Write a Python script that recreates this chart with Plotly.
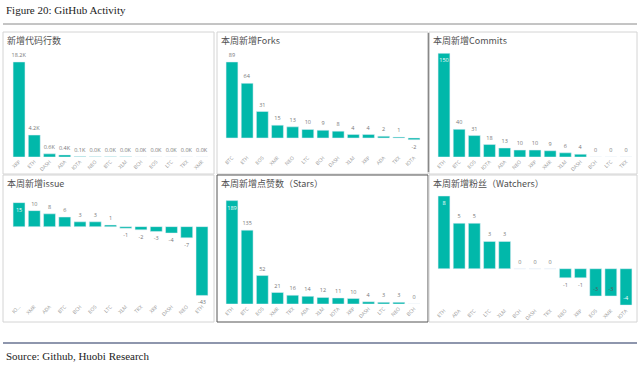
import plotly.graph_objects as go

W, H = 640, 366
TEAL = "#01B8AA"

# ---------------- data ----------------
loc_cats = ["XRP", "ETH", "DASH", "ADA", "IOTA", "NEO", "BTC", "XLM", "BCH", "EOS", "LTC", "TRX", "XMR"]
loc_vals = [18200, 4200, 600, 400, 90, 40, 30, 30, 10, 5, 3, 2, 1]

forks_cats = ["BTC", "ETH", "EOS", "XMR", "NEO", "LTC", "BCH", "DASH", "XLM", "XRP", "ADA", "TRX", "IOTA"]
forks_vals = [89, 64, 31, 15, 13, 10, 9, 8, 4, 4, 2, 1, -2]

commits_cats = ["ETH", "BTC", "EOS", "IOTA", "ADA", "NEO", "XRP", "XMR", "XLM", "DASH", "BCH", "LTC", "TRX"]
commits_vals = [150, 40, 31, 18, 13, 10, 10, 9, 6, 4, 0, 0, 0]

issue_cats = ["IO…", "XMR", "ADA", "BTC", "BCH", "EOS", "LTC", "XLM", "TRX", "XRP", "DASH", "NEO", "ETH"]
issue_vals = [15, 10, 8, 6, 3, 3, 1, -1, -2, -3, -4, -7, -43]

stars_cats = ["ETH", "BTC", "EOS", "XMR", "TRX", "ADA", "XLM", "IOTA", "XRP", "DASH", "LTC", "NEO", "BCH"]
stars_vals = [189, 135, 52, 21, 16, 14, 12, 11, 10, 4, 3, 3, 0]

watch_cats = ["ETH", "ADA", "BTC", "LTC", "XLM", "BCH", "DASH", "TRX", "NEO", "XRP", "EOS", "XMR", "IOTA"]
watch_vals = [8, 5, 5, 3, 3, 0, 0, 0, -1, -1, -3, -3, -4]

titles = ["新增代码行数", "本周新增Forks", "本周新增Commits",
          "本周新增issue", "本周新增点赞数（Stars）", "本周新增粉丝（Watchers）"]


def px_x(p):
    return p / W


def px_y(p):
    return 1 - p / H


panels = [
    dict(cats=loc_cats, vals=loc_vals, text=[f"{v/1000:.1f}K" for v in loc_vals],
         x=(11.4, 209.6), y=(48, 157), rng=[0, 20880], inside={}),
    dict(cats=forks_cats, vals=forks_vals, text=[str(v) for v in forks_vals],
         x=(224.4, 421.6), y=(52, 153), rng=[-17.6, 100.7], inside={}),
    dict(cats=commits_cats, vals=commits_vals, text=[str(v) for v in commits_vals],
         x=(436.4, 633.6), y=(50, 157), rng=[0, 154.8], inside={0: "white"}),
    dict(cats=issue_cats, vals=issue_vals, text=[str(v) for v in issue_vals],
         x=(11.4, 209.6), y=(190, 302), rng=[-47.1, 22.9], inside={0: "white"}),
    dict(cats=stars_cats, vals=stars_vals, text=[str(v) for v in stars_vals],
         x=(224.4, 421.6), y=(197, 304), rng=[0, 195.6], inside={0: "white"}),
    dict(cats=watch_cats, vals=watch_vals, text=[str(v) for v in watch_vals],
         x=(436.4, 633.6), y=(193, 306), rng=[-4.1, 8.33],
         inside={0: "white", 10: "#555", 11: "#555", 12: "white"}),
]

fig = go.Figure()
layout = {}
for i, p in enumerate(panels):
    n = i + 1
    xa = "x" if n == 1 else f"x{n}"
    ya = "y" if n == 1 else f"y{n}"
    tpos = ["inside" if k in p["inside"] else "outside" for k in range(len(p["vals"]))]
    tcol = [p["inside"].get(k, "#777") for k in range(len(p["vals"]))]
    fig.add_trace(go.Bar(
        x=p["cats"], y=p["vals"], text=p["text"], textposition=tpos,
        insidetextanchor="end", constraintext="none", cliponaxis=False,
        textangle=0,
        textfont=dict(size=5.5, color=tcol, family="Open Sans"),
        marker=dict(color=TEAL), xaxis=xa, yaxis=ya, showlegend=False,
        hoverinfo="skip"))
    xkey = "xaxis" if n == 1 else f"xaxis{n}"
    ykey = "yaxis" if n == 1 else f"yaxis{n}"
    layout[xkey] = dict(domain=[px_x(p["x"][0]), px_x(p["x"][1])], anchor=ya,
                        tickangle=-45, tickfont=dict(size=5, color="#9a9a9a", family="Open Sans"),
                        showgrid=False, zeroline=False, showline=False, ticks="",
                        fixedrange=True)
    layout[ykey] = dict(domain=[px_y(p["y"][1]), px_y(p["y"][0])], anchor=xa,
                        range=p["rng"], showgrid=False, zeroline=False,
                        showticklabels=False, showline=False, fixedrange=True)

fig.update_layout(**layout)

# panel frames
cols = [(3, 214), (217, 428), (429, 637)]
rows = [(32, 174), (175, 322)]
shapes = []
for r, (y0, y1) in enumerate(rows):
    for c, (x0, x1) in enumerate(cols):
        dark = (r == 1 and c == 1)
        shapes.append(dict(type="rect", xref="paper", yref="paper",
                           x0=px_x(x0), x1=px_x(x1), y0=px_y(y1), y1=px_y(y0),
                           line=dict(color="#555" if dark else "#d4d4d4", width=1),
                           layer="below"))
# darker left border of commits panel
shapes.append(dict(type="line", xref="paper", yref="paper",
                   x0=px_x(428.5), x1=px_x(428.5), y0=px_y(172), y1=px_y(33),
                   line=dict(color="#888", width=1.5)))
# header rule and source rule
shapes.append(dict(type="line", xref="paper", yref="paper",
                   x0=px_x(3), x1=px_x(637), y0=px_y(24), y1=px_y(24),
                   line=dict(color="#8a8a8a", width=1)))
shapes.append(dict(type="line", xref="paper", yref="paper",
                   x0=px_x(3), x1=px_x(637), y0=px_y(343), y1=px_y(343),
                   line=dict(color="#1f2f5c", width=1.2)))

annotations = []
tpos = [(5, 40), (219, 40), (431, 40), (5, 183), (219, 183), (431, 183)]
for t, (tx, ty) in zip(titles, tpos):
    annotations.append(dict(text=t, xref="paper", yref="paper", x=px_x(tx), y=px_y(ty),
                            xanchor="left", yanchor="middle", showarrow=False,
                            font=dict(size=9, color="#505050", family="Noto Sans CJK SC")))
annotations.append(dict(text="Figure 20: GitHub Activity", xref="paper", yref="paper",
                        x=px_x(4), y=px_y(10), xanchor="left", yanchor="middle", showarrow=False,
                        font=dict(size=11, color="#222", family="Liberation Serif")))
annotations.append(dict(text="Source: Github, Huobi Research", xref="paper", yref="paper",
                        x=px_x(4), y=px_y(356), xanchor="left", yanchor="middle", showarrow=False,
                        font=dict(size=11, color="#222", family="Liberation Serif")))

fig.update_layout(width=W, height=H, margin=dict(l=0, r=0, t=0, b=0),
                  paper_bgcolor="white", plot_bgcolor="rgba(0,0,0,0)",
                  bargap=0.22, shapes=shapes, annotations=annotations,
                  font=dict(family="Open Sans"))

fig.write_html("out.html", config={"displayModeBar": False},
               post_script="document.body.style.margin='0';document.body.style.overflow='hidden';")
